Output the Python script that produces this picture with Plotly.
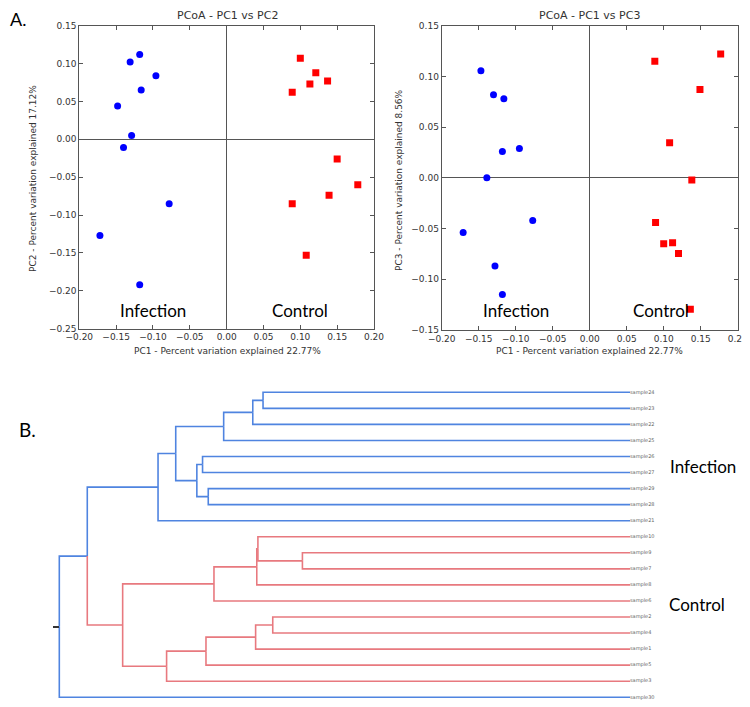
import plotly.graph_objects as go

## PCoA coordinates
inf_pc1 = [-0.118, -0.131, -0.096, -0.116, -0.148, -0.129, -0.140, -0.078, -0.172, -0.118]
inf_pc2 = [0.112, 0.102, 0.084, 0.065, 0.044, 0.005, -0.011, -0.085, -0.127, -0.192]
ctl_pc1 = [0.100, 0.121, 0.113, 0.137, 0.089, 0.150, 0.178, 0.139, 0.089, 0.108]
ctl_pc2 = [0.107, 0.088, 0.073, 0.077, 0.062, -0.026, -0.060, -0.074, -0.085, -0.153]

inf3_pc1 = [-0.147, -0.130, -0.116, -0.118, -0.095, -0.139, -0.077, -0.171, -0.128, -0.118]
inf3_pc3 = [0.1055, 0.082, 0.078, 0.026, 0.029, 0.000, -0.042, -0.054, -0.087, -0.115]
ctl3_pc1 = [0.088, 0.177, 0.149, 0.108, 0.138, 0.089, 0.100, 0.112, 0.120, 0.136]
ctl3_pc3 = [0.115, 0.122, 0.087, 0.0346, -0.002, -0.044, -0.065, -0.064, -0.0746, -0.1296]

## dendrogram leaves (top to bottom) and merges
leaves = ["sample24", "sample23", "sample22", "sample25", "sample26", "sample27", "sample29",
          "sample28", "sample21", "sample10", "sample9", "sample7", "sample8", "sample6",
          "sample2", "sample4", "sample1", "sample5", "sample3", "sample30"]
leaf_group = ["Infection"] * 9 + ["Control"] * 10 + ["Infection"]

node_left = ["sample24", "n1", "n2", "sample26", "sample29", "n4", "n3", "n7",
             "sample9", "sample10", "n10", "n11", "sample2", "n13", "n14", "n15", "n12", "n8", "n18"]
node_right = ["sample23", "sample22", "sample25", "sample27", "sample28", "n5", "n6", "sample21",
              "sample7", "n9", "sample8", "sample6", "sample4", "sample1", "sample5", "sample3",
              "n16", "n17", "sample30"]
node_height = [0.643, 0.661, 0.712, 0.749, 0.739, 0.759, 0.796, 0.827,
               0.574, 0.652, 0.654, 0.729, 0.626, 0.656, 0.743, 0.812, 0.889, 0.951, 1.000]
node_group = ["Infection"] * 8 + ["Control"] * 9 + ["Infection"] * 2
root_tick = 14.6

BLUE = "#4f84e0"
RED = "#e8797f"
AX = "#555555"

fig = go.Figure()

## scatter panels
fig.add_trace(go.Scatter(x=inf_pc1, y=inf_pc2, mode="markers",
                         marker=dict(color="#0000ff", size=7, symbol="circle"), xaxis="x", yaxis="y"))
fig.add_trace(go.Scatter(x=ctl_pc1, y=ctl_pc2, mode="markers",
                         marker=dict(color="#ff0000", size=7, symbol="square"), xaxis="x", yaxis="y"))
fig.add_trace(go.Scatter(x=inf3_pc1, y=inf3_pc3, mode="markers",
                         marker=dict(color="#0000ff", size=7, symbol="circle"), xaxis="x2", yaxis="y2"))
fig.add_trace(go.Scatter(x=ctl3_pc1, y=ctl3_pc3, mode="markers",
                         marker=dict(color="#ff0000", size=7, symbol="square"), xaxis="x2", yaxis="y2"))

## dendrogram geometry
pos = {}
col = {}
for i, name in enumerate(leaves):
    pos[name] = (0.0, float(i))
    col[name] = leaf_group[i]
segs = {"Infection": ([], []), "Control": ([], [])}
for k in range(len(node_left)):
    nid = "n%d" % (k + 1)
    h = node_height[k]
    a, b = node_left[k], node_right[k]
    ymid = (pos[a][1] + pos[b][1]) / 2
    for c in (a, b):
        xs, ys = segs[col[c]]
        xs += [pos[c][0], h, h, None]
        ys += [pos[c][1], pos[c][1], ymid, None]
    pos[nid] = (h, ymid)
    col[nid] = node_group[k]

for g, c in (("Infection", BLUE), ("Control", RED)):
    fig.add_trace(go.Scatter(x=segs[g][0], y=segs[g][1], mode="lines",
                             line=dict(color=c, width=1.6), xaxis="x3", yaxis="y3"))
fig.add_trace(go.Scatter(x=[0] * len(leaves), y=list(range(len(leaves))), mode="text",
                         text=leaves, textposition="middle right", cliponaxis=False,
                         textfont=dict(size=5, color="#666666"), xaxis="x3", yaxis="y3"))

## page has an 8px body margin, so the figure is a bit smaller and shifted
OFF = 8
W, H = 750 - OFF, 707 - OFF
def px(x):
    return (x - OFF) / W
def py(y):
    return 1 - (y - OFF) / H

sc_axis = dict(showgrid=False, zeroline=True, zerolinecolor=AX, zerolinewidth=1,
               showline=True, linecolor=AX, linewidth=1, mirror="ticks", automargin=False,
               ticks="inside", ticklen=4, tickcolor=AX, tickformat=".2f", dtick=0.05,
               tickfont=dict(size=9, color="#333333"))

fig.update_layout(
    width=W, height=H, margin=dict(l=0, r=0, t=0, b=0),
    paper_bgcolor="white", plot_bgcolor="white", showlegend=False,
    font=dict(family="DejaVu Sans", color="#333333"),
    xaxis=dict(sc_axis, domain=[px(79.3), px(374)], range=[-0.2, 0.2], anchor="y"),
    yaxis=dict(sc_axis, domain=[py(328.6), py(25.7)], range=[-0.25, 0.15], anchor="x"),
    xaxis2=dict(sc_axis, domain=[px(441.7), px(737.7)], range=[-0.2, 0.2], anchor="y2"),
    yaxis2=dict(sc_axis, domain=[py(330), py(25.7)], range=[-0.15, 0.15], anchor="x2"),
    xaxis3=dict(domain=[px(47.9), px(641.4)], range=[1.02, -0.02], visible=False,
                anchor="y3", automargin=False),
    yaxis3=dict(domain=[py(705.3), py(384.3)], range=[19.5, -0.5], anchor="free",
                position=px(59.3), showgrid=False, zeroline=False, showline=False,
                showticklabels=False, ticks="outside", ticklen=6, tickwidth=1.5,
                tickcolor="#333333", tickvals=[root_tick], automargin=False),
)

big = dict(family="Lato", size=17, color="black")
small = dict(family="DejaVu Sans", size=9, color="#333333")
ttl = dict(family="DejaVu Sans", size=11, color="#333333")
ann = [
    dict(text="A.", x=px(8), y=py(19), xref="paper", yref="paper", xanchor="left", font=dict(big, size=18)),
    dict(text="B.", x=px(17), y=py(430), xref="paper", yref="paper", xanchor="left", font=dict(big, size=19)),
    dict(text="PCoA - PC1 vs PC2", x=px(227), y=py(15), xref="paper", yref="paper", font=ttl),
    dict(text="PCoA - PC1 vs PC3", x=px(589), y=py(15), xref="paper", yref="paper", font=ttl),
    dict(text="PC1 - Percent variation explained 22.77%", x=px(227), y=py(351), xref="paper", yref="paper", font=small),
    dict(text="PC1 - Percent variation explained 22.77%", x=px(589), y=py(351), xref="paper", yref="paper", font=small),
    dict(text="PC2 - Percent variation explained 17.12%", x=px(33), y=py(179), xref="paper", yref="paper",
         textangle=-90, font=small),
    dict(text="PC3 - Percent variation explained 8.56%", x=px(399), y=py(180), xref="paper", yref="paper",
         textangle=-90, font=small),
    dict(text="Infection", x=-0.10, y=-0.226, xref="x", yref="y", font=big),
    dict(text="Control", x=0.099, y=-0.226, xref="x", yref="y", font=big),
    dict(text="Infection", x=-0.10, y=-0.131, xref="x2", yref="y2", font=big),
    dict(text="Control", x=0.097, y=-0.131, xref="x2", yref="y2", font=big),
    dict(text="Infection", x=px(668), y=py(467), xref="paper", yref="paper", xanchor="left", font=big),
    dict(text="Control", x=px(667), y=py(604), xref="paper", yref="paper", xanchor="left", font=big),
]
for a in ann:
    a.setdefault("showarrow", False)
    a.setdefault("xanchor", "center")
    a.setdefault("yanchor", "middle")
fig.update_layout(annotations=ann)

fig.write_html("out.html")
